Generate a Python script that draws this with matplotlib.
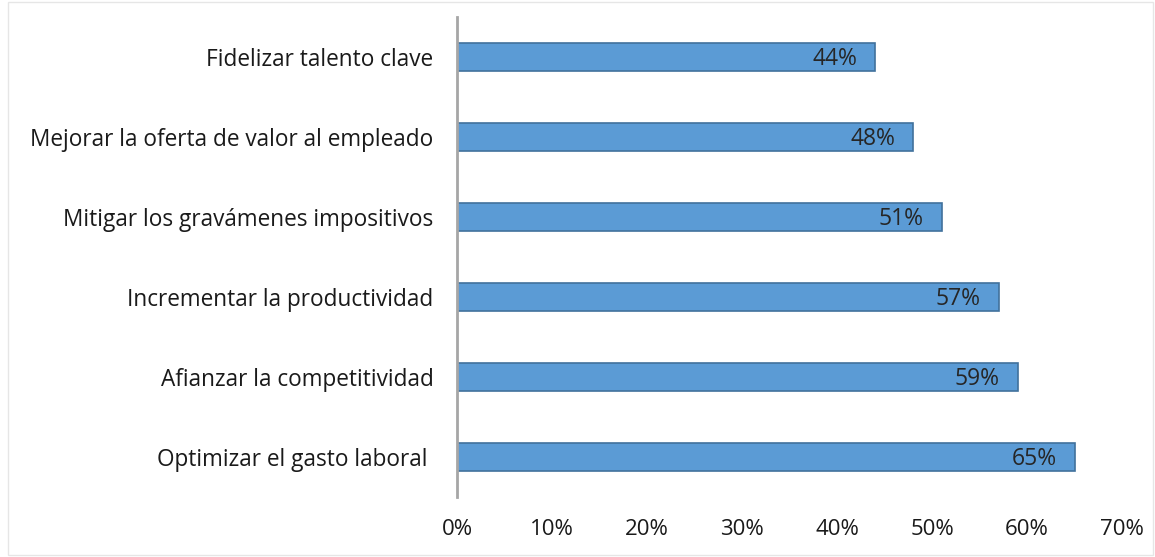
import matplotlib.pyplot as plt
from matplotlib.patches import Rectangle

categorias = ['Optimizar el gasto laboral ',
              'Afianzar la competitividad',
              'Incrementar la productividad',
              'Mitigar los gravámenes impositivos',
              'Mejorar la oferta de valor al empleado',
              'Fidelizar talento clave']
valores = [65, 59, 57, 51, 48, 44]
ticks_x = [0, 10, 20, 30, 40, 50, 60, 70]

plt.rcParams['font.family'] = ['Open Sans', 'DejaVu Sans']

fig = plt.figure(figsize=(11.55, 5.57), dpi=100)
ax = fig.add_axes([457 / 1155, 60 / 557, 665 / 1155, 480 / 557])

# barras horizontales
pos = range(len(categorias))
ax.barh(pos, valores, height=0.34, color='#5B9BD5', edgecolor='#41719C', linewidth=1.2)

# etiquetas de datos dentro de la barra
for i, v in zip(pos, valores):
    ax.text(v - 1.9, i - 0.03, f'{v}%', ha='right', va='center', fontsize=16.5, color='#262626')

ax.set_xlim(0, 70)
ax.set_ylim(-0.5, len(categorias) - 0.5)
ax.set_xticks(ticks_x)
ax.set_xticklabels([f'{t}%' for t in ticks_x], fontsize=16, color='#1a1a1a')
ax.set_yticks(list(pos))
ax.set_yticklabels(categorias, fontsize=16.3, color='#1a1a1a')
ax.tick_params(axis='both', length=0)
ax.tick_params(axis='x', pad=16)
ax.tick_params(axis='y', pad=17)

for s in ['top', 'right', 'bottom']:
    ax.spines[s].set_visible(False)
ax.spines['left'].set_color('#A6A6A6')
ax.spines['left'].set_linewidth(2)

# marco del grafico
fig.patches.append(Rectangle((8 / 1155, 2 / 557), 1145 / 1155, 553 / 557, transform=fig.transFigure,
                             fill=False, edgecolor='#E6E6E6', linewidth=1))

fig.savefig('out.png', dpi=100)
